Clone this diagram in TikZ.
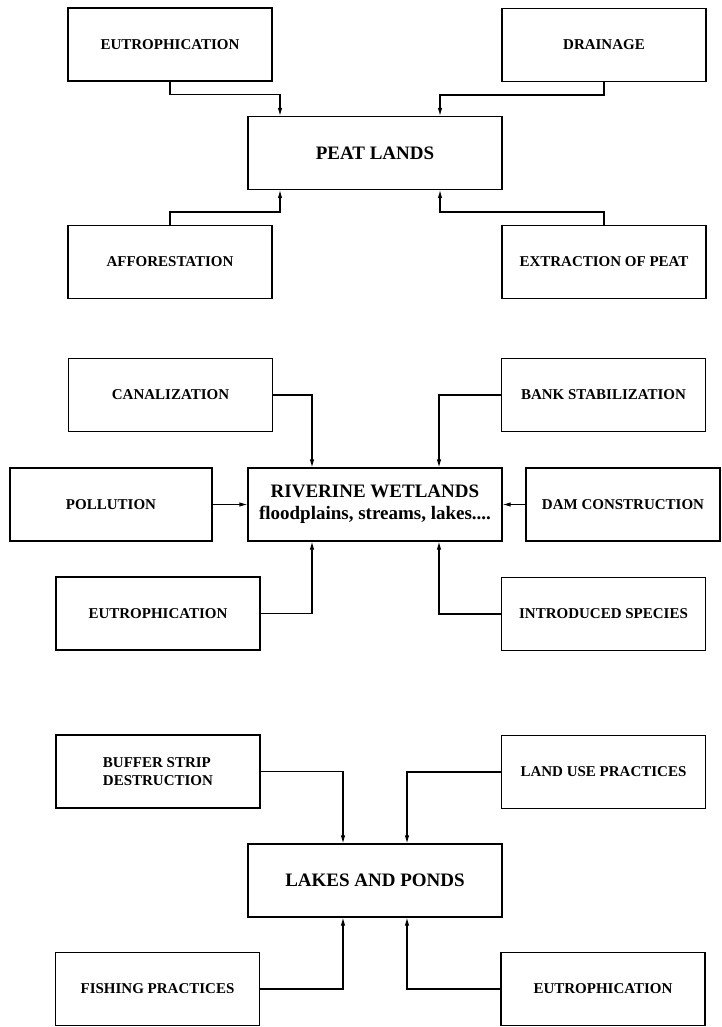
\documentclass[tikz,border=0pt]{standalone}
\usepackage{fontspec}
\setmainfont{Liberation Serif}
\usetikzlibrary{arrows.meta}

\tikzset{
  cause/.style={draw, line width=1.1pt, inner sep=0pt, minimum width=204pt, minimum height=73pt,
    font=\fontsize{15}{18}\selectfont\bfseries, align=left},
  wetland/.style={draw, line width=1.1pt, inner sep=0pt, minimum width=254pt, minimum height=73pt,
    font=\fontsize{19}{22}\selectfont\bfseries, align=center},
  link/.style={line width=1.1pt, -{Latex[length=8pt,width=4.5pt]}}
}

\begin{document}
\begin{tikzpicture}[x=1pt, y=-1pt]
  \useasboundingbox (0,0) rectangle (721,1027);

  % peat lands
  \node[wetland] (peat) at (375,153) {PEAT LANDS};
  \node[cause] (eutroA) at (170,44.5) {EUTROPHICATION};
  \node[cause] (drain) at (604,45) {DRAINAGE};
  \node[cause] (affor) at (170,262) {AFFORESTATION};
  \node[cause] (extract) at (604,262) {EXTRACTION OF PEAT};
  \draw[link] (eutroA.south) -- ++(0,13) -| ([xshift=-95pt]peat.north);
  \draw[link] (drain.south) -- ++(0,13) -| ([xshift=65pt]peat.north);
  \draw[link] (affor.north) -- ++(0,-13) -| ([xshift=-95pt]peat.south);
  \draw[link] (extract.north) -- ++(0,-13) -| ([xshift=65pt]peat.south);

  % riverine wetlands
  \node[wetland] (river) at (375,504.5) {RIVERINE WETLANDS\\floodplains, streams, lakes....};
  \node[cause] (canal) at (170.5,395) {CANALIZATION};
  \node[cause] (bank) at (603.5,395) {BANK STABILIZATION};
  \node[cause, minimum width=202pt] (pollu) at (111,504.5) {POLLUTION};
  \node[cause, minimum width=194pt] (dam) at (623,504.5) {DAM CONSTRUCTION};
  \node[cause] (eutroB) at (158,613.5) {EUTROPHICATION};
  \node[cause] (intro) at (603.5,614) {INTRODUCED SPECIES};
  \draw[link] (canal.east) -| ([xshift=-63pt]river.north);
  \draw[link] (bank.west) -| ([xshift=64pt]river.north);
  \draw[link] (pollu.east) -- (river.west);
  \draw[link] (dam.west) -- (river.east);
  \draw[link] (eutroB.east) -| ([xshift=-63pt]river.south);
  \draw[link] (intro.west) -| ([xshift=64pt]river.south);

  % lakes and ponds
  \node[wetland] (lakes) at (375,880.5) {LAKES AND PONDS};
  \node[cause] (buffer) at (158,771.5) {BUFFER STRIP\\DESTRUCTION};
  \node[cause] (landuse) at (603.5,772) {LAND USE PRACTICES};
  \node[cause] (fishing) at (157.5,989) {FISHING PRACTICES};
  \node[cause] (eutroC) at (603,989) {EUTROPHICATION};
  \draw[link] (buffer.east) -| ([xshift=-32pt]lakes.north);
  \draw[link] (landuse.west) -| ([xshift=32pt]lakes.north);
  \draw[link] (fishing.east) -| ([xshift=-32pt]lakes.south);
  \draw[link] (eutroC.west) -| ([xshift=32pt]lakes.south);
\end{tikzpicture}
\end{document}
